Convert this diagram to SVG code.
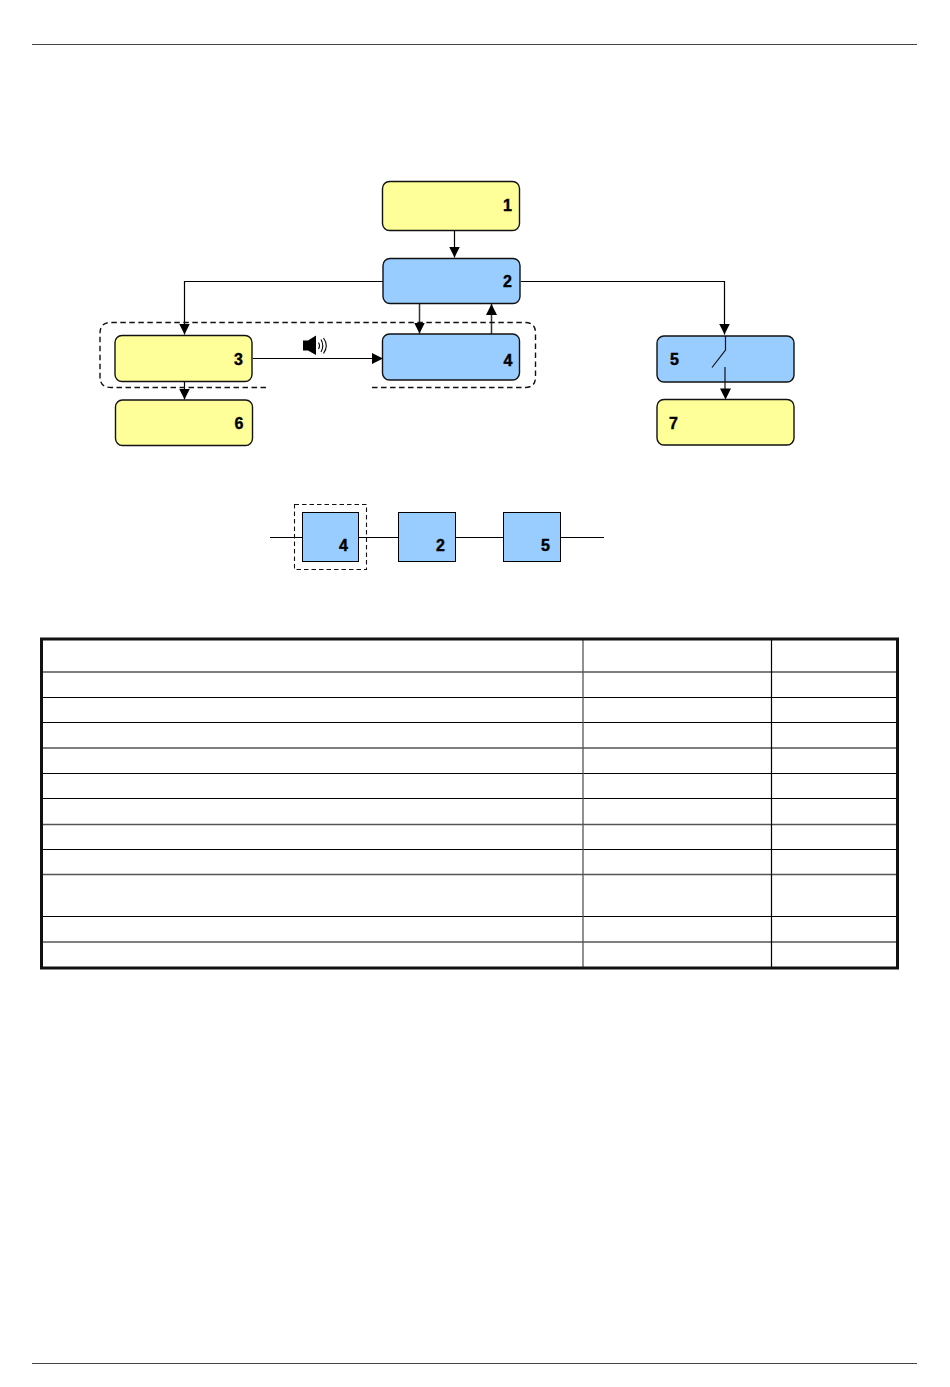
<svg xmlns="http://www.w3.org/2000/svg" width="950" height="1387" viewBox="0 0 950 1387">
<style>
.y{fill:#ffff99;stroke:#111;stroke-width:1.4}
.b{fill:#99ccff;stroke:#111;stroke-width:1.4}
.s{fill:#99ccff;stroke:#000;stroke-width:1}
.t{font-family:"Liberation Sans",Arial,sans-serif;font-weight:bold;font-size:16px;fill:#000;stroke:#000;stroke-width:.4;text-anchor:middle}
.c{fill:none;stroke:#000;stroke-width:1.2}
.g{fill:none;stroke:#333;stroke-width:1.5}
.d{fill:none;stroke:#111;stroke-width:1.4;stroke-dasharray:5.500 3.500}
.a{fill:#000;stroke:none}
.l{stroke:#000;stroke-width:1.2;fill:none}
.lg{stroke:#555;stroke-width:1.3;fill:none}
.o{stroke:#111;stroke-width:3;fill:none}
</style>
<defs>
<marker id="ah" markerWidth="12" markerHeight="12" refX="11" refY="5.500" orient="auto" markerUnits="userSpaceOnUse"><path d="M0,0L11,5.500L0,11z" class="a"/></marker>
</defs>
<rect width="950" height="1387" fill="#fff"/>
<g id="rules">
<line x1="32" y1="44.500" x2="917" y2="44.500" stroke="#444" stroke-width="1.200"/>
<line x1="32" y1="1363.500" x2="917" y2="1363.500" stroke="#444" stroke-width="1.200"/>
</g>
<g id="connectors">
<path class="c" d="M454.500,231V257.500" marker-end="url(#ah)"/>
<path class="c" d="M383,281.500H184.500V334.500" marker-end="url(#ah)"/>
<path class="g" d="M419.500,304V333.500" marker-end="url(#ah)"/>
<path class="g" d="M491.500,334V304" marker-end="url(#ah)"/>
<path class="c" d="M521,281.500H724.500V334.500" marker-end="url(#ah)"/>
<path class="c" d="M253,358.500H383" marker-end="url(#ah)"/>
<path class="c" d="M184.500,382V399.500" marker-end="url(#ah)"/>
</g>
<g id="group-dashed">
<path class="d" d="M266,387.500H111Q100,387.500 100,377V333Q100,322.500 111,322.500H525Q535.500,322.500 535.500,333V377Q535.500,387.500 525,387.500H370"/>
</g>
<g id="node1"><rect class="y" x="382.500" y="181.500" width="137" height="49" rx="7"/><text class="t" x="507.500" y="210.500">1</text></g>
<g id="node2"><rect class="b" x="383" y="258.500" width="137" height="45" rx="7"/><text class="t" x="507.500" y="287">2</text></g>
<g id="node3"><rect class="y" x="115" y="335.500" width="137" height="46" rx="7"/><text class="t" x="238.500" y="365">3</text></g>
<g id="node4"><rect class="b" x="382.500" y="334" width="137" height="46" rx="7"/><text class="t" x="508" y="366">4</text></g>
<g id="node5"><rect class="b" x="657" y="336" width="137" height="46" rx="7"/><text class="t" x="674.500" y="365">5</text>
<path fill="none" stroke="#111" stroke-width="1.2" d="M725.500,336V350L712,367.500M725,367V392"/><path class="a" d="M720,388.500H731L725.500,399.500z"/></g>
<g id="node6"><rect class="y" x="115.500" y="400" width="137" height="45.500" rx="7"/><text class="t" x="239" y="429">6</text></g>
<g id="node7"><rect class="y" x="657" y="399.500" width="137" height="45.500" rx="7"/><text class="t" x="673.500" y="428.500">7</text></g>
<g id="speaker">
<path class="a" d="M303,340.500H308L316,335.500V355L308,350.500H303z"/>
<path fill="none" stroke="#000" stroke-width="1.100" d="M318.500,342.500Q320.500,345.500 318.500,349M321,339.500Q324.500,345.500 321,352M323.500,338Q329,345.500 323.500,353.500"/>
</g>
<g id="rbd-connectors">
<path class="c" d="M270,537.500H302.500M359,537.500H398.500M456,537.500H503.500M561,537.500H604"/>
</g>
<g id="rbd4"><rect class="s" x="302.500" y="512.500" width="56" height="49"/><text class="t" x="343.500" y="551">4</text></g>
<g id="rbd2"><rect class="s" x="398.500" y="512.500" width="57" height="49"/><text class="t" x="440.500" y="551">2</text></g>
<g id="rbd5"><rect class="s" x="503.500" y="512.500" width="57" height="49"/><text class="t" x="545.500" y="551">5</text></g>
<rect id="rbd-dashed" x="294.500" y="504.500" width="72" height="65" fill="none" stroke="#111" stroke-width="1.100" stroke-dasharray="4.500 3"/>
<g id="table">
<path class="lg" d="M42,672H897M42,824.500H897M42,874.500H897M42,942H897"/>
<path class="l" d="M42,697.500H897M42,722.500H897M42,748H897M42,773.500H897M42,798.500H897M42,849.500H897M42,916.500H897"/>
<path class="lg" d="M583,640V967"/>
<path class="l" d="M771.500,640V967"/>
<rect class="o" x="41.500" y="639" width="856" height="329"/>
</g>
</svg>
